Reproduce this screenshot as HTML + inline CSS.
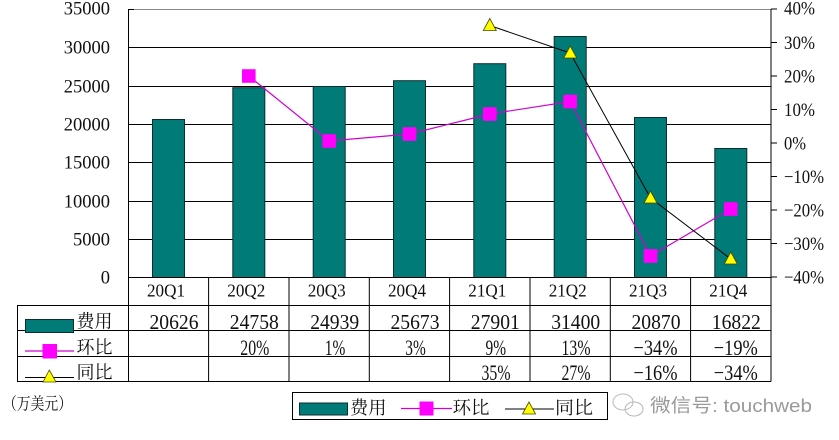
<!DOCTYPE html>
<html><head><meta charset="utf-8"><style>
html,body{margin:0;padding:0;background:#fff;}
svg{display:block;}
.s{font-family:"Liberation Serif","Noto Serif CJK SC",serif;fill:#111;}
.c{font-family:"Liberation Serif","Noto Serif CJK SC",serif;fill:#111;}
</style></head><body>
<svg width="839" height="440" viewBox="0 0 839 440" xmlns="http://www.w3.org/2000/svg">
<rect width="839" height="440" fill="#fff"/>
<g stroke="#000" stroke-width="1">
<line x1="128.5" y1="47.5" x2="771" y2="47.5"/>
<line x1="128.5" y1="86.5" x2="771" y2="86.5"/>
<line x1="128.5" y1="124.5" x2="771" y2="124.5"/>
<line x1="128.5" y1="162.5" x2="771" y2="162.5"/>
<line x1="128.5" y1="201.5" x2="771" y2="201.5"/>
<line x1="128.5" y1="239.5" x2="771" y2="239.5"/>
</g>
<line x1="128.5" y1="9.5" x2="771" y2="9.5" stroke="#888" stroke-width="1"/>
<g fill="#007b78" stroke="#0d2e2e" stroke-width="1">
<rect x="152.5" y="119.5" width="32" height="158"/>
<rect x="232.8" y="87.7" width="32" height="189.8"/>
<rect x="313.2" y="86.5" width="32" height="191"/>
<rect x="393.5" y="80.7" width="32" height="196.8"/>
<rect x="473.8" y="63.7" width="32" height="213.8"/>
<rect x="554.2" y="36.5" width="32" height="241"/>
<rect x="634.5" y="117.5" width="32" height="160"/>
<rect x="714.8" y="148.5" width="32" height="129"/>
</g>
<g stroke="#000" stroke-width="1">
<line x1="128.5" y1="9" x2="128.5" y2="381.5"/>
<line x1="771" y1="9" x2="771" y2="381.5"/>
<line x1="128.5" y1="9.5" x2="134" y2="9.5"/>
<line x1="771" y1="9" x2="777" y2="9"/>
<line x1="771" y1="42.5" x2="777" y2="42.5"/>
<line x1="771" y1="76" x2="777" y2="76"/>
<line x1="771" y1="109.5" x2="777" y2="109.5"/>
<line x1="771" y1="143" x2="777" y2="143"/>
<line x1="771" y1="176.5" x2="777" y2="176.5"/>
<line x1="771" y1="210" x2="777" y2="210"/>
<line x1="771" y1="243.5" x2="777" y2="243.5"/>
<line x1="771" y1="277" x2="777" y2="277"/>
<line x1="128" y1="277.5" x2="771" y2="277.5"/>
<line x1="17" y1="305.5" x2="771" y2="305.5"/>
<line x1="17" y1="330.5" x2="771" y2="330.5"/>
<line x1="17" y1="356.5" x2="771" y2="356.5"/>
<line x1="17" y1="381.5" x2="771" y2="381.5"/>
<line x1="17.5" y1="305" x2="17.5" y2="381.5"/>
<line x1="208.6" y1="277" x2="208.6" y2="381.5"/>
<line x1="289" y1="277" x2="289" y2="381.5"/>
<line x1="369.3" y1="277" x2="369.3" y2="381.5"/>
<line x1="449.6" y1="277" x2="449.6" y2="381.5"/>
<line x1="530" y1="277" x2="530" y2="381.5"/>
<line x1="610.3" y1="277" x2="610.3" y2="381.5"/>
<line x1="690.6" y1="277" x2="690.6" y2="381.5"/>
</g>
<polyline points="248.8,76 329.2,141 409.5,134 489.8,114 570.2,101.5 650.5,256 730.8,209" fill="none" stroke="#d000d0" stroke-width="1.2"/>
<polyline points="489.8,25.5 570.2,53 650.5,198 730.8,259" fill="none" stroke="#000" stroke-width="1"/>
<g fill="#ff00ff">
<rect x="242" y="69.2" width="13.6" height="13.6"/>
<rect x="322.4" y="134.2" width="13.6" height="13.6"/>
<rect x="402.7" y="127.2" width="13.6" height="13.6"/>
<rect x="483" y="107.2" width="13.6" height="13.6"/>
<rect x="563.4" y="94.7" width="13.6" height="13.6"/>
<rect x="643.7" y="249.2" width="13.6" height="13.6"/>
<rect x="724" y="202.2" width="13.6" height="13.6"/>
</g>
<g fill="#ffff00" stroke="#4a4a00" stroke-width="0.8">
<polygon points="489.8,18.5 483.3,30.5 496.3,30.5"/>
<polygon points="570.2,46 563.7,58 576.7,58"/>
<polygon points="650.5,191 644,203 657,203"/>
<polygon points="730.8,252 724.3,264 737.3,264"/>
</g>
<g class="s" font-size="18.5" text-anchor="end">
<text x="110" y="14.5">35000</text>
<text x="110" y="53.5">30000</text>
<text x="110" y="92.5">25000</text>
<text x="110" y="130.5">20000</text>
<text x="110" y="168.5">15000</text>
<text x="110" y="207.5">10000</text>
<text x="110" y="245.5">5000</text>
<text x="110" y="283.5">0</text>
</g>
<g class="s" font-size="19">
<text x="784" y="14.5" textLength="31" lengthAdjust="spacingAndGlyphs">40%</text>
<text x="784" y="49" textLength="31" lengthAdjust="spacingAndGlyphs">30%</text>
<text x="784" y="82.5" textLength="31" lengthAdjust="spacingAndGlyphs">20%</text>
<text x="784" y="116" textLength="31" lengthAdjust="spacingAndGlyphs">10%</text>
<text x="784" y="149.5" textLength="22" lengthAdjust="spacingAndGlyphs">0%</text>
<text x="784" y="183" textLength="40" lengthAdjust="spacingAndGlyphs">−10%</text>
<text x="784" y="216.5" textLength="40" lengthAdjust="spacingAndGlyphs">−20%</text>
<text x="784" y="250" textLength="40" lengthAdjust="spacingAndGlyphs">−30%</text>
<text x="784" y="283.5" textLength="40" lengthAdjust="spacingAndGlyphs">−40%</text>
</g>
<g class="s" font-size="18" text-anchor="middle">
<text x="166" y="296.5" textLength="38" lengthAdjust="spacingAndGlyphs">20Q1</text>
<text x="246.3" y="296.5" textLength="38" lengthAdjust="spacingAndGlyphs">20Q2</text>
<text x="326.7" y="296.5" textLength="38" lengthAdjust="spacingAndGlyphs">20Q3</text>
<text x="407" y="296.5" textLength="38" lengthAdjust="spacingAndGlyphs">20Q4</text>
<text x="487.3" y="296.5" textLength="38" lengthAdjust="spacingAndGlyphs">21Q1</text>
<text x="567.7" y="296.5" textLength="38" lengthAdjust="spacingAndGlyphs">21Q2</text>
<text x="648" y="296.5" textLength="38" lengthAdjust="spacingAndGlyphs">21Q3</text>
<text x="728.3" y="296.5" textLength="38" lengthAdjust="spacingAndGlyphs">21Q4</text>
</g>
<g class="s" font-size="21.5" text-anchor="middle">
<text x="174" y="329" textLength="49" lengthAdjust="spacingAndGlyphs">20626</text>
<text x="254.3" y="329" textLength="49" lengthAdjust="spacingAndGlyphs">24758</text>
<text x="334.7" y="329" textLength="49" lengthAdjust="spacingAndGlyphs">24939</text>
<text x="415" y="329" textLength="49" lengthAdjust="spacingAndGlyphs">25673</text>
<text x="495.3" y="329" textLength="49" lengthAdjust="spacingAndGlyphs">27901</text>
<text x="575.7" y="329" textLength="49" lengthAdjust="spacingAndGlyphs">31400</text>
<text x="656" y="329" textLength="49" lengthAdjust="spacingAndGlyphs">20870</text>
<text x="736.3" y="329" textLength="49" lengthAdjust="spacingAndGlyphs">16822</text>
</g>
<g class="s" font-size="22" text-anchor="middle">
<text x="254.8" y="355" textLength="29" lengthAdjust="spacingAndGlyphs">20%</text>
<text x="335" y="355" textLength="20.5" lengthAdjust="spacingAndGlyphs">1%</text>
<text x="415.5" y="355" textLength="20.5" lengthAdjust="spacingAndGlyphs">3%</text>
<text x="495.8" y="355" textLength="20.5" lengthAdjust="spacingAndGlyphs">9%</text>
<text x="576" y="355" textLength="29" lengthAdjust="spacingAndGlyphs">13%</text>
<text x="655.5" y="355" textLength="44" lengthAdjust="spacingAndGlyphs">−34%</text>
<text x="735.8" y="355" textLength="44" lengthAdjust="spacingAndGlyphs">−19%</text>
</g>
<g class="s" font-size="22" text-anchor="middle">
<text x="496" y="380" textLength="29" lengthAdjust="spacingAndGlyphs">35%</text>
<text x="576" y="380" textLength="29" lengthAdjust="spacingAndGlyphs">27%</text>
<text x="655.5" y="380" textLength="44" lengthAdjust="spacingAndGlyphs">−16%</text>
<text x="735.8" y="380" textLength="44" lengthAdjust="spacingAndGlyphs">−34%</text>
</g>
<rect x="25.5" y="319.5" width="48" height="13" fill="#007b78" stroke="#0d2e2e" stroke-width="1"/>
<line x1="25" y1="351" x2="74" y2="351" stroke="#d000d0" stroke-width="1.2"/>
<rect x="42.5" y="344" width="14.5" height="14.5" fill="#ff00ff"/>
<line x1="25" y1="377.5" x2="74" y2="377.5" stroke="#000" stroke-width="1"/>
<polygon points="49.3,370 43,382 56,382" fill="#ffff00" stroke="#4a4a00" stroke-width="0.8"/>
<g class="c" font-size="18">
<text x="76.5" y="327.5" textLength="36" lengthAdjust="spacingAndGlyphs">费用</text>
<text x="76.5" y="353.5" textLength="36" lengthAdjust="spacingAndGlyphs">环比</text>
<text x="76.5" y="378.5" textLength="36" lengthAdjust="spacingAndGlyphs">同比</text>
</g>
<text class="c" x="3" y="409.5" font-size="17" textLength="69" lengthAdjust="spacingAndGlyphs">（万美元）</text>
<rect x="292.5" y="392.5" width="315" height="27" fill="#fff" stroke="#000" stroke-width="1"/>
<rect x="299.5" y="403" width="48" height="12" fill="#007b78" stroke="#0d2e2e" stroke-width="1"/>
<text class="c" x="350" y="414" font-size="18" textLength="36.5" lengthAdjust="spacingAndGlyphs">费用</text>
<line x1="401" y1="408.5" x2="452" y2="408.5" stroke="#d000d0" stroke-width="1.2"/>
<rect x="419.5" y="401.5" width="14" height="14" fill="#ff00ff"/>
<text class="c" x="452.5" y="414" font-size="18" textLength="37" lengthAdjust="spacingAndGlyphs">环比</text>
<line x1="505" y1="409" x2="554" y2="409" stroke="#000" stroke-width="1"/>
<polygon points="529,402 522.5,414 535.5,414" fill="#ffff00" stroke="#4a4a00" stroke-width="0.8"/>
<text class="c" x="555" y="414" font-size="18" textLength="38" lengthAdjust="spacingAndGlyphs">同比</text>
<g fill="none" stroke="#b8b8b8" stroke-width="1">
<ellipse cx="623" cy="402" rx="10" ry="8"/>
<ellipse cx="634" cy="409" rx="9" ry="7"/>
</g>
<text x="650" y="412" font-size="18.5" fill="#9a9a9a" font-family="'Liberation Sans','Noto Sans CJK SC',sans-serif" textLength="162" lengthAdjust="spacingAndGlyphs">微信号: touchweb</text>
</svg>
</body></html>
